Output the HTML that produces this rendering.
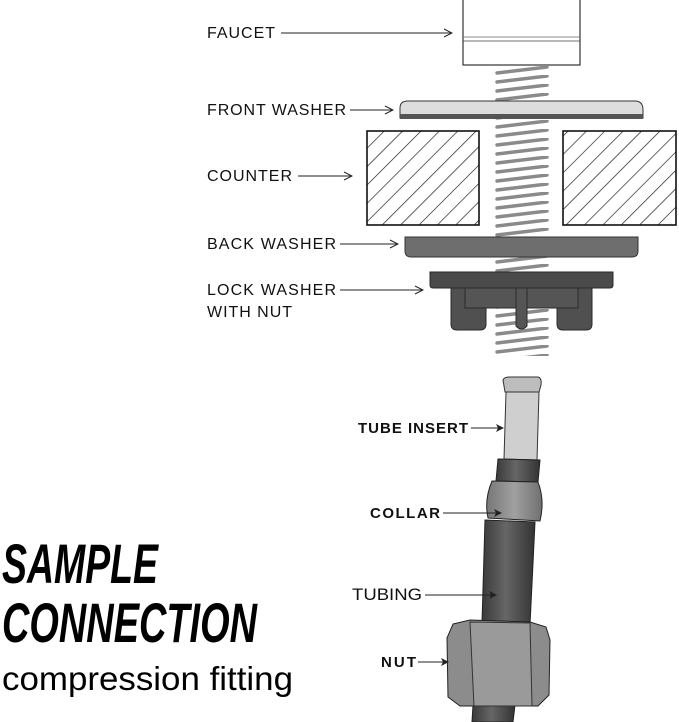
<!DOCTYPE html>
<html><head><style>html,body{margin:0;padding:0;background:#fff}svg{display:block}</style></head>
<body>
<svg width="679" height="722" viewBox="0 0 679 722" xmlns="http://www.w3.org/2000/svg" font-family="Liberation Sans, sans-serif">
<defs>
<pattern id="h" width="13" height="13" patternUnits="userSpaceOnUse" patternTransform="rotate(45)">
<line x1="0" y1="0" x2="0" y2="13" stroke="#111" stroke-width="1.3"/>
</pattern>
<pattern id="th" width="60" height="9" patternUnits="userSpaceOnUse" x="495" y="66">
<path d="M2 7 L52 1" stroke="#8a8a8a" stroke-width="3.4" stroke-linecap="round"/>
</pattern>
<marker id="a" markerWidth="10" markerHeight="10" refX="9" refY="5" orient="auto" markerUnits="userSpaceOnUse">
<path d="M1 1 L9 5 L1 9" fill="none" stroke="#222" stroke-width="1"/>
</marker>
<marker id="b" markerWidth="8" markerHeight="8" refX="7" refY="4" orient="auto" markerUnits="userSpaceOnUse">
<path d="M0 0 L8 4 L0 8 L2 4Z" fill="#222"/>
</marker>
<linearGradient id="tg" x1="0" x2="1"><stop offset="0" stop-color="#3a3a3a"/><stop offset="0.45" stop-color="#666"/><stop offset="1" stop-color="#333"/></linearGradient>
<linearGradient id="cg" x1="0" x2="1"><stop offset="0" stop-color="#777"/><stop offset="0.5" stop-color="#a0a0a0"/><stop offset="1" stop-color="#707070"/></linearGradient>
</defs>
<rect x="494" y="66" width="56" height="290" fill="url(#th)"/>
<rect x="463" y="-2" width="117" height="67" fill="#fff" stroke="#333" stroke-width="1.2"/>
<line x1="463" y1="37" x2="580" y2="37" stroke="#666" stroke-width="0.8"/>
<line x1="463" y1="41" x2="580" y2="41" stroke="#444" stroke-width="0.8"/>
<path d="M400 118 L400 108 Q400 101 408 101 L635 101 Q643 101 643 110 L643 118Z" fill="#ddd" stroke="#333" stroke-width="1"/>
<rect x="400" y="114" width="243" height="5" fill="#555"/>
<rect x="367" y="131" width="112" height="94" fill="url(#h)" stroke="#111" stroke-width="1.6"/>
<rect x="563" y="131" width="113" height="94" fill="url(#h)" stroke="#111" stroke-width="1.6"/>
<path d="M405 237 L638 237 L638 251 Q638 257 632 257 L411 257 Q405 257 405 251Z" fill="#6e6e6e" stroke="#333" stroke-width="1"/>
<path d="M451 288 L486 288 L486 324 Q486 330 480 330 L457 330 Q451 330 451 324Z" fill="#505050" stroke="#2a2a2a"/>
<path d="M557 288 L592 288 L592 324 Q592 330 586 330 L563 330 Q557 330 557 324Z" fill="#505050" stroke="#2a2a2a"/>
<rect x="465" y="288" width="113" height="20" fill="#555" stroke="#2a2a2a"/>
<path d="M516 288 L527 288 L527 326 Q521.5 332 516 326Z" fill="#555" stroke="#2a2a2a"/>
<path d="M430 272 L613 272 L613 285 Q613 288 610 288 L433 288 Q430 288 430 285Z" fill="#4a4a4a" stroke="#2a2a2a"/>
<g font-size="16" fill="#111" lengthAdjust="spacingAndGlyphs">
<text x="207" y="38" textLength="68">FAUCET</text>
<text x="207" y="115" textLength="139">FRONT WASHER</text>
<text x="207" y="181" textLength="85">COUNTER</text>
<text x="207" y="249" textLength="129">BACK WASHER</text>
<text x="207" y="295" textLength="129">LOCK WASHER</text>
<text x="207" y="317" textLength="85">WITH NUT</text>
</g>
<g stroke="#222" stroke-width="1" marker-end="url(#a)">
<line x1="281" y1="33" x2="452" y2="33"/>
<line x1="350" y1="110" x2="393" y2="110"/>
<line x1="298" y1="176" x2="352" y2="176"/>
<line x1="340" y1="244" x2="398" y2="244"/>
<line x1="340" y1="290" x2="423" y2="290"/>
</g>
<path d="M473 705 L515 705 L513 722 L472 722Z" fill="url(#tg)" stroke="#222"/>
<path d="M485 520 L535 522 L530 625 L482 623Z" fill="url(#tg)" stroke="#222"/>
<path d="M506 392 L539 392 L537 460 L504 459Z" fill="#cfcfcf" stroke="#333"/>
<path d="M503 380 Q504 377 510 377 L538 377 Q542 378 541 385 L539 392 L505 392Z" fill="#bdbdbd" stroke="#333"/>
<path d="M498 459 L540 460 L538 482 L496 481Z" fill="url(#tg)" stroke="#222"/>
<path d="M492 481 L538 482 Q545 500 540 521 L488 518 Q484 500 492 481Z" fill="url(#cg)" stroke="#222"/>
<path d="M453 624 L470 620 L530 622 L546 627 L550 640 L549 695 L538 706 L460 706 L448 697 L447 638Z" fill="#8c8c8c" stroke="#222"/>
<path d="M470 622 L530 623 L532 706 L474 706Z" fill="#9a9a9a" stroke="#333"/>
<g fill="#111" font-weight="bold" lengthAdjust="spacingAndGlyphs">
<text x="358" y="433" font-size="15" textLength="110">TUBE INSERT</text>
<text x="370" y="518" font-size="15" textLength="70">COLLAR</text>
<text x="381" y="667" font-size="15" textLength="35">NUT</text>
</g>
<text x="352" y="600" font-size="17" fill="#111" textLength="70" lengthAdjust="spacingAndGlyphs">TUBING</text>
<g stroke="#222" stroke-width="1" marker-end="url(#b)">
<line x1="471" y1="428" x2="503" y2="428"/>
<line x1="443" y1="513" x2="501" y2="513"/>
<line x1="425" y1="595" x2="496" y2="595"/>
<line x1="418" y1="662" x2="448" y2="662"/>
</g>
<text x="2" y="583" font-size="56" font-weight="bold" font-style="italic" textLength="156" lengthAdjust="spacingAndGlyphs" fill="#000">SAMPLE</text>
<text x="2" y="642" font-size="56" font-weight="bold" font-style="italic" textLength="255" lengthAdjust="spacingAndGlyphs" fill="#000">CONNECTION</text>
<text x="2" y="690" font-size="33" textLength="291" lengthAdjust="spacingAndGlyphs" fill="#000">compression fitting</text>
</svg>
</body></html>
